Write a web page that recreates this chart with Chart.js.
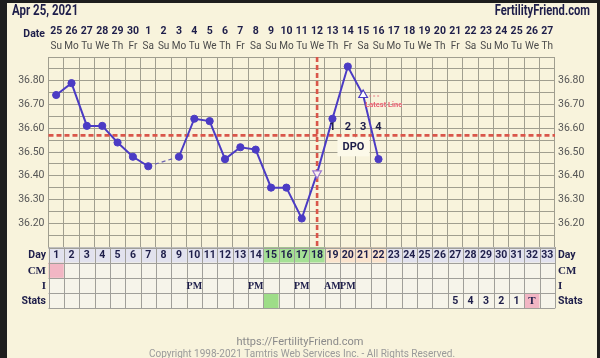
<!DOCTYPE html>
<html><head><meta charset="utf-8">
<script src="https://cdn.jsdelivr.net/npm/chart.js@4/dist/chart.umd.min.js"></script>
<style>html,body{margin:0;padding:0;background:#1e1e1e;overflow:hidden}canvas{display:block}</style>
</head><body><canvas id="c" width="600" height="358"></canvas>
<script>
// ---------- data ----------
const chartTitle = 'Apr 25, 2021';
const siteName = 'FertilityFriend.com';
const days = Array.from({length:33},(_,i)=>String(i+1));
const dates = ['25','26','27','28','29','30','1','2','3','4','5','6','7','8','9','10','11','12','13','14','15','16','17','18','19','20','21','22','23','24','25','26','27'];
const weekdays = ['Su','Mo','Tu','We','Th','Fr','Sa','Su','Mo','Tu','We','Th','Fr','Sa','Su','Mo','Tu','We','Th','Fr','Sa','Su','Mo','Tu','We','Th','Fr','Sa','Su','Mo','Tu','We','Th'];
const temps = [36.74,36.79,36.61,36.61,36.54,36.48,36.44,null,36.48,36.64,36.63,36.47,36.52,36.51,36.35,36.35,36.22,36.41,36.64,36.86,36.74,36.47,null,null,null,null,null,null,null,null,null,null,null];
const yTickValues = [36.10,36.15,36.20,36.25,36.30,36.35,36.40,36.45,36.50,36.55,36.60,36.65,36.70,36.75,36.80,36.85,36.90];
const yTickLabels = ['36.20','36.30','36.40','36.50','36.60','36.70','36.80'];
const coverline = 36.57;
const ovulationDay = 18;
const latestLineDay = 21;
const dpoDays = [19,20,21,22];
const dpoLabels = ['1','2','3','4'];
const fertileDays = [15,16,17,18];
const lutealDays = [19,20,21,22];
const cmHighlightDays = [1];
const intercourse = {10:'PM',14:'PM',17:'PM',19:'AM',20:'PM'};
const statsText = {27:'5',28:'4',29:'3',30:'2',31:'1',32:'T'};
const statsGreenDays = [15];
const statsPinkDays = [32];
const footer1 = 'https://FertilityFriend.com';
const footer2 = 'Copyright 1998-2021 Tamtris Web Services Inc. - All Rights Reserved.';

// ---------- styles ----------
const CREAM = '#f8f3dc';
const GRID = '#a09e8f';
const NAVY = '#1e1e4a';
const LINE = '#4b3bc4';
const RED = '#d9564a';
const SANS = 'Roboto, "Liberation Sans", sans-serif';
const SERIF = '"Liberation Serif", "DejaVu Serif", serif';

const ffPlugin = {
  id:'ff',
  beforeDraw(chart){
    const c = chart.ctx;
    c.save();
    c.fillStyle = '#1e1e1e'; c.fillRect(0,0,600,358);
    c.fillStyle = CREAM; c.fillRect(7,3,590,355);
    c.restore();
  },
  beforeDatasetsDraw(chart){
    const c = chart.ctx, a = chart.chartArea, x = chart.scales.x, y = chart.scales.y;
    c.save();
    // DPO box
    const bx = (x.getPixelForValue(19)+x.getPixelForValue(20))/2 - 2;
    const by = y.getPixelForValue(36.52) - 0.5;
    c.fillStyle = '#fcf9e9';
    c.fillRect(bx-16, by-9.5, 32, 19);
    c.strokeStyle = RED; c.lineWidth = 2.6; c.setLineDash([5,3]);
    const cy = y.getPixelForValue(coverline);
    c.beginPath(); c.moveTo(a.left, cy); c.lineTo(a.right, cy); c.stroke();
    const ox = x.getPixelForValue(ovulationDay-1);
    c.beginPath(); c.moveTo(ox, a.top); c.lineTo(ox, a.bottom); c.stroke();
    c.restore();
  },
  afterDatasetsDraw(chart){
    const c = chart.ctx, x = chart.scales.x, y = chart.scales.y;
    c.save();
    c.fillStyle = NAVY; c.textAlign='center'; c.textBaseline='middle';
    c.font = 'bold 11px '+SANS;
    dpoDays.forEach((d,i)=>{ c.fillText(dpoLabels[i], x.getPixelForValue(d-1), y.getPixelForValue(36.60)-1); });
    const bx = (x.getPixelForValue(19)+x.getPixelForValue(20))/2 - 2;
    c.font = 'bold 11px '+SANS;
    c.fillText('DPO', bx, y.getPixelForValue(36.52));
    // Latest Line
    const lx = x.getPixelForValue(latestLineDay-1), ly = y.getPixelForValue(temps[latestLineDay-1]);
    c.strokeStyle = '#e87a84'; c.lineWidth = 1.2; c.setLineDash([2,2]);
    c.beginPath(); c.moveTo(lx+6, ly+1); c.lineTo(lx+16, ly+1); c.stroke();
    c.setLineDash([]);
    c.font = 'bold 7.5px '+SANS; c.textAlign='left';
    c.fillStyle = 'rgba(255,255,255,0.8)'; c.fillText('Latest Line', lx+2.6, ly+10.6);
    c.fillStyle = '#e8606c'; c.fillText('Latest Line', lx+2, ly+10);
    c.restore();
  },
  afterDraw(chart){
    const c = chart.ctx, a = chart.chartArea, x = chart.scales.x;
    const w = a.width/33;
    c.save();
    // header
    c.fillStyle = NAVY; c.textBaseline='middle';
    c.font = 'bold 14px '+SANS;
    c.save(); c.translate(12, 11.5); c.scale(0.82,1); c.textAlign='left'; c.fillText(chartTitle,0,0); c.restore();
    c.save(); c.translate(590, 11.5); c.scale(0.8,1); c.textAlign='right'; c.fillText(siteName,0,0); c.restore();
    c.textAlign='right'; c.font='bold 10.5px '+SANS; c.fillText('Date', 45, 34);
    c.textAlign='center';
    dates.forEach((d,i)=>{ const px=x.getPixelForValue(i);
      c.fillStyle=NAVY; c.font='bold 10.5px '+SANS; c.fillText(d, px, 31);
      c.fillStyle='#4a4a4a'; c.font='10px '+SANS; c.fillText(weekdays[i], px, 46);
    });
    // table
    const top = a.bottom + 0.5, rh = 15.2;
    for(let i=0;i<33;i++){
      const d=i+1, x0 = a.left + i*w;
      let bg = '#e2e2ee';
      if(fertileDays.includes(d)) bg='#a5e095';
      else if(lutealDays.includes(d)) bg='#fae3cd';
      c.fillStyle=bg; c.fillRect(x0, top, w, rh);
      c.fillStyle = cmHighlightDays.includes(d)?'#f2b6c4':'#f6f4ea'; c.fillRect(x0, top+rh, w, rh);
      c.fillStyle = '#f6f4ea'; c.fillRect(x0, top+2*rh, w, rh);
      c.fillStyle = statsGreenDays.includes(d)?'#9edd88':(statsPinkDays.includes(d)?'#f2b6c4':'#f6f4ea'); c.fillRect(x0, top+3*rh, w, rh);
    }
    c.strokeStyle='#a09f9a'; c.lineWidth=1;
    c.beginPath();
    for(let r=0;r<=4;r++){ c.moveTo(a.left, Math.round(top+r*rh)+0.5); c.lineTo(a.right, Math.round(top+r*rh)+0.5); }
    for(let i=0;i<=33;i++){ const xx=Math.round(a.left+i*w)+0.5; c.moveTo(xx, top); c.lineTo(xx, top+4*rh); }
    c.stroke();
    c.textBaseline='middle'; c.textAlign='center';
    for(let i=0;i<33;i++){
      const d=i+1, px=x.getPixelForValue(i);
      c.fillStyle=NAVY; c.font='bold 10.5px '+SANS; c.fillText(days[i], px, top+rh/2+0.5);
      if(intercourse[d]){ c.font='bold 10px '+SERIF; c.fillText(intercourse[d], px, top+2.5*rh+0.5); }
      if(statsText[d]){ c.font = statsText[d]==='T' ? 'bold 11px '+SERIF : 'bold 10.5px '+SANS; c.fillText(statsText[d], px, top+3.5*rh+0.5); }
    }
    const rowLabels=[['Day',SANS],['CM',SERIF],['I',SERIF],['Stats',SANS]];
    rowLabels.forEach(([t,f],r)=>{
      c.font='bold '+(f===SERIF?'11px ':'10.5px ')+f;
      c.textAlign='right'; c.fillText(t, a.left-2.5, top+(r+0.5)*rh+0.5);
      c.textAlign='left'; c.fillText(t, a.right+3, top+(r+0.5)*rh+0.5);
    });
    // footer
    c.textAlign='center'; c.fillStyle='#8a8a8a'; c.font='11px '+SANS;
    c.fillText(footer1, 300, 342);
    c.fillStyle='#9a9a9a'; c.font='10px '+SANS;
    c.fillText(footer2, 302, 354.5);
    c.restore();
  }
};

const isTri = i => (i+1)===ovulationDay || (i+1)===latestLineDay;
const tickCb = v => { const s = Number(v).toFixed(2); return yTickLabels.includes(s) ? s : ''; };
const setTicks = s => { s.ticks = yTickValues.map(v=>({value:v})); };

new Chart(document.getElementById('c'), {
  type:'line',
  data:{ labels: days, datasets:[{
    data: temps, yAxisID:'y',
    borderColor: LINE, borderWidth: 2,
    spanGaps: true,
    segment:{ borderDash: ctx => (ctx.p0.skip||ctx.p1.skip)?[4,3]:undefined,
              borderWidth: ctx => (ctx.p0.skip||ctx.p1.skip)?1.2:undefined,
              borderColor: ctx => (ctx.p0.skip||ctx.p1.skip)?'#6a62b0':undefined },
    pointStyle: temps.map((v,i)=> isTri(i)?'triangle':'circle'),
    pointRotation: temps.map((v,i)=> (i+1)===ovulationDay?180:0),
    pointRadius: temps.map((v,i)=> isTri(i)?5:3.6),
    pointBackgroundColor: temps.map((v,i)=> isTri(i)?((i+1)===ovulationDay?'#fbeef2':'#ffffff'):LINE),
    pointBorderColor: temps.map((v,i)=> (i+1)===ovulationDay?'#9a7ad0':LINE),
    pointBorderWidth: temps.map((v,i)=> isTri(i)?1.2:1)
  }]},
  options:{
    responsive:false, animation:false, devicePixelRatio:1,
    layout:{padding:{left:8,right:5,top:57,bottom:111}},
    plugins:{legend:{display:false}, tooltip:{enabled:false}},
    scales:{
      x:{ offset:true, grid:{offset:true, color:GRID, drawTicks:false, lineWidth:1}, border:{color:GRID}, ticks:{display:false} },
      y:{ position:'left', min:36.1, max:36.9, afterBuildTicks:setTicks,
          afterFit: s => { s.width = 40.5; },
          grid:{color:GRID, drawTicks:false}, border:{color:GRID},
          ticks:{autoSkip:false, padding:4, color:'#555', font:{family:'Roboto', size:10.5}, callback:tickCb} },
      y2:{ position:'right', min:36.1, max:36.9, afterBuildTicks:setTicks,
          afterFit: s => { s.width = 40; },
          grid:{display:false, drawTicks:false}, border:{display:false},
          ticks:{autoSkip:false, padding:3, color:'#555', font:{family:'Roboto', size:10.5}, callback:tickCb} }
    }
  },
  plugins:[ffPlugin]
});
</script></body></html>
